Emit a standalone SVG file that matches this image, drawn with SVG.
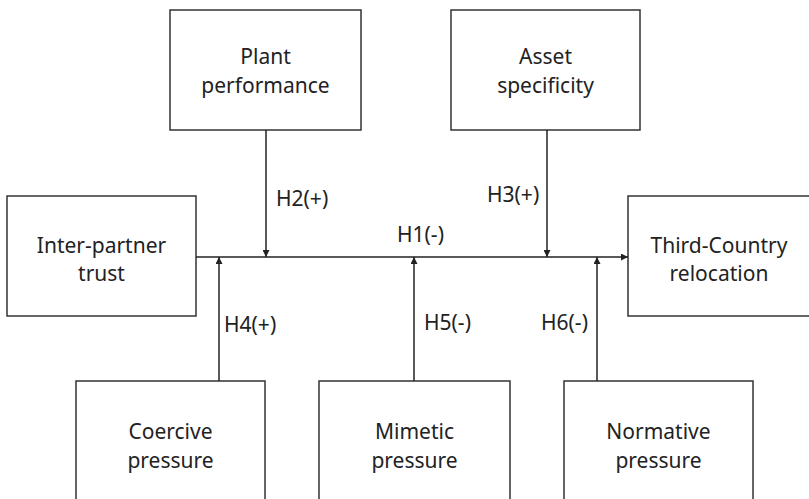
<svg xmlns="http://www.w3.org/2000/svg" width="809" height="499" viewBox="0 0 809 499">
<style>
.box{fill:#fff;stroke:#333;stroke-width:1.5}
.t{font-family:"Noto Sans","Open Sans",sans-serif;font-size:21px;fill:#222;text-anchor:middle}
.l{font-family:"Noto Sans","Open Sans",sans-serif;font-size:21px;fill:#222}
.c{stroke:#222;stroke-width:1.5;fill:none;marker-end:url(#ah)}
</style>
<defs>
<marker id="ah" viewBox="0 0 10 10" refX="10" refY="5" markerWidth="7" markerHeight="7" markerUnits="userSpaceOnUse" orient="auto"><path d="M0,0 L10,5 L0,10 z" fill="#222"/></marker>
</defs>
<rect width="809" height="499" fill="#fff"/>
<g id="inter-partner-trust"><rect class="box" x="7" y="196" width="189" height="120"/><text class="t" x="101.5" y="253">Inter-partner</text><text class="t" x="101.5" y="281">trust</text></g>
<g id="third-country-relocation"><rect class="box" x="628" y="196" width="200" height="120"/><text class="t" x="719" y="253">Third-Country</text><text class="t" x="719" y="281">relocation</text></g>
<g id="plant-performance"><rect class="box" x="170" y="10" width="191" height="120"/><text class="t" x="265.5" y="64">Plant</text><text class="t" x="265.5" y="93">performance</text></g>
<g id="asset-specificity"><rect class="box" x="451" y="10" width="189" height="120"/><text class="t" x="545.5" y="64">Asset</text><text class="t" x="545.5" y="93">specificity</text></g>
<g id="coercive-pressure"><rect class="box" x="76" y="381" width="189" height="140"/><text class="t" x="170.5" y="439">Coercive</text><text class="t" x="170.5" y="468">pressure</text></g>
<g id="mimetic-pressure"><rect class="box" x="319" y="381" width="191" height="140"/><text class="t" x="414.5" y="439">Mimetic</text><text class="t" x="414.5" y="468">pressure</text></g>
<g id="normative-pressure"><rect class="box" x="564" y="381" width="189" height="140"/><text class="t" x="658.5" y="439">Normative</text><text class="t" x="658.5" y="468">pressure</text></g>
<g id="connectors">
<line class="c" x1="196" y1="257" x2="628" y2="257"/>
<line class="c" x1="266" y1="130" x2="266" y2="257"/>
<line class="c" x1="547" y1="130" x2="547" y2="257"/>
<line class="c" x1="219" y1="381" x2="219" y2="257"/>
<line class="c" x1="414" y1="381" x2="414" y2="257"/>
<line class="c" x1="597" y1="381" x2="597" y2="257"/>
<text class="l" x="397" y="242">H1(-)</text>
<text class="l" x="276" y="206">H2(+)</text>
<text class="l" x="487" y="202">H3(+)</text>
<text class="l" x="224" y="332">H4(+)</text>
<text class="l" x="424" y="330">H5(-)</text>
<text class="l" x="541" y="330">H6(-)</text>
</g>
</svg>
